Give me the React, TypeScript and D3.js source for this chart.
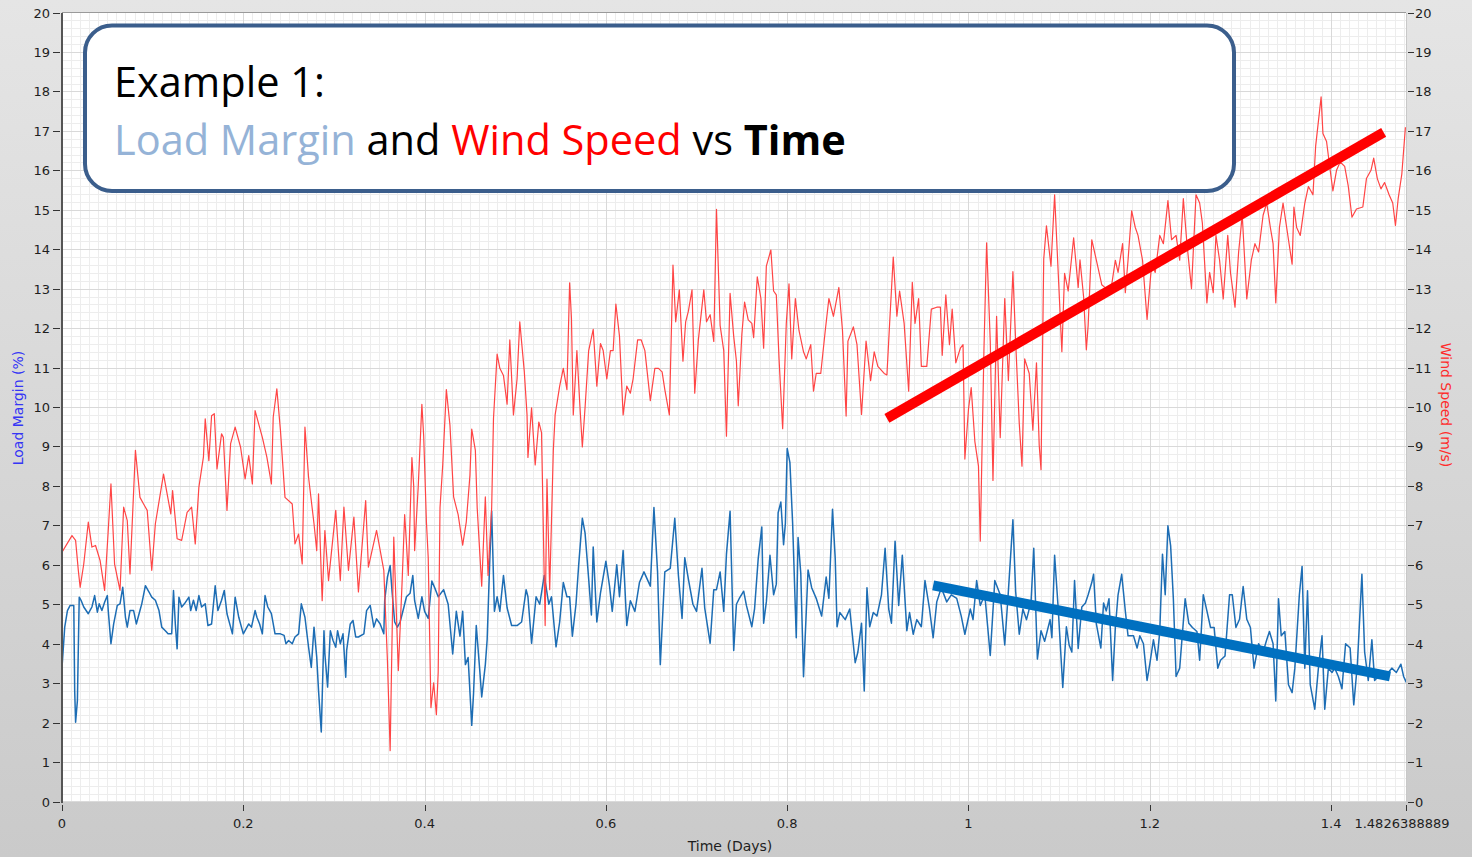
import React from "react";
import * as d3 from "d3";

// ---------- data (time in days, values in % and m/s) ----------
const X_MAX = 1.4826388889;
const xTicks = [0, 0.2, 0.4, 0.6, 0.8, 1, 1.2, 1.4, 1.4826388889];
const xTickLabels = ["0", "0.2", "0.4", "0.6", "0.8", "1", "1.2", "1.4", "1.4826388889"];
const yTicks = d3.range(0, 21);

const titleLine1 = "Example 1:";
const titleParts = [
  { text: "Load Margin", color: "#95b3d7", bold: false },
  { text: " and ", color: "#000000", bold: false },
  { text: "Wind Speed", color: "#ff0000", bold: false },
  { text: " vs ", color: "#000000", bold: false },
  { text: "Time", color: "#000000", bold: true },
];

const windSpeed: [number, number][] = [
  [0.000,6.32],[0.011,6.74],[0.015,6.62],[0.018,5.86],[0.020,5.43],[0.024,6.02],[0.029,7.08],[0.033,6.45],[0.037,6.49],[0.042,6.11],[0.047,5.35],[0.051,6.87],[0.054,8.05],[0.058,6.02],[0.064,5.35],[0.068,7.46],[0.072,7.12],[0.075,5.77],[0.081,8.90],[0.086,7.71],[0.090,7.54],[0.094,7.38],[0.099,5.86],[0.103,7.04],[0.112,8.30],[0.120,7.29],[0.122,7.88],[0.127,6.66],[0.132,6.62],[0.138,7.33],[0.143,7.46],[0.147,6.53],[0.151,7.97],[0.156,8.73],[0.158,9.70],[0.162,8.64],[0.165,9.78],[0.168,9.83],[0.171,8.43],[0.176,9.32],[0.178,9.23],[0.182,7.38],[0.186,9.07],[0.191,9.49],[0.197,8.98],[0.202,8.18],[0.206,8.77],[0.210,8.05],[0.213,9.91],[0.221,9.23],[0.226,8.73],[0.231,8.05],[0.233,9.74],[0.237,10.46],[0.241,9.40],[0.246,7.71],[0.254,7.54],[0.257,6.53],[0.261,6.78],[0.265,6.02],[0.268,9.49],[0.272,8.22],[0.278,7.04],[0.281,6.36],[0.283,7.80],[0.287,5.09],[0.290,6.87],[0.294,5.60],[0.302,7.38],[0.307,5.60],[0.311,7.46],[0.316,5.86],[0.322,7.21],[0.327,5.31],[0.335,7.63],[0.338,5.94],[0.347,6.87],[0.355,5.86],[0.359,3.57],[0.362,1.29],[0.366,6.70],[0.371,3.32],
  [0.375,5.46],[0.378,7.27],[0.380,6.54],[0.382,5.73],[0.386,8.72],[0.388,7.99],[0.389,6.36],[0.393,7.99],[0.397,10.07],[0.399,9.26],[0.402,7.09],[0.404,6.18],[0.407,2.38],[0.410,3.01],[0.413,2.20],[0.415,3.28],[0.417,7.45],[0.420,8.53],[0.424,10.44],[0.428,9.53],[0.432,7.72],[0.437,7.27],[0.442,6.50],[0.446,7.09],[0.450,8.26],[0.452,9.44],[0.456,8.90],[0.458,7.45],[0.463,5.46],[0.467,7.72],[0.470,5.73],[0.474,7.45],[0.476,9.71],[0.480,11.34],[0.483,10.98],[0.487,10.80],[0.491,10.07],[0.494,11.70],[0.498,9.80],[0.502,10.71],[0.505,12.16],[0.510,10.89],[0.513,9.80],[0.514,8.72],[0.518,9.98],[0.522,8.53],[0.526,9.62],[0.529,9.35],[0.532,5.64],[0.533,4.46],[0.535,8.17],[0.538,5.37],[0.542,8.90],[0.544,9.80],[0.549,10.53],[0.553,10.98],[0.557,10.44],[0.560,13.15],[0.562,12.25],[0.564,9.80],[0.568,11.43],[0.571,10.16],[0.574,8.99],[0.577,9.98],[0.581,11.43],[0.586,11.97],[0.590,10.53],[0.594,11.61],[0.597,11.43],[0.601,10.71],[0.605,11.43],[0.608,11.43],[0.611,12.61],[0.615,11.79],[0.619,9.80],[0.623,10.53],[0.627,10.35],[0.630,10.71],[0.635,11.70],[0.639,11.70],[0.643,11.43],[0.649,10.16],[0.654,10.98],[0.658,10.98],[0.662,10.89],[0.665,10.44],[0.670,9.80],[0.674,13.60],[0.677,12.16],[0.681,12.97],[0.685,11.16],[0.688,12.16],[0.691,12.43],[0.695,12.97],[0.698,10.35],[0.702,11.70],[0.708,12.97],[0.711,12.16],[0.715,12.34],[0.719,11.66],[0.722,15.01],[0.726,12.07],[0.730,11.43],[0.733,9.26],[0.737,12.88],[0.741,11.79],[0.744,11.16],[0.746,10.03],
  [0.750,11.85],[0.753,12.66],[0.757,12.21],[0.761,12.12],[0.763,11.76],[0.767,13.30],[0.771,12.75],[0.774,11.49],[0.777,13.57],[0.782,13.98],[0.785,12.94],[0.788,12.84],[0.791,11.22],[0.795,9.45],[0.799,12.12],[0.802,13.12],[0.805,11.22],[0.809,12.75],[0.813,11.94],[0.818,11.40],[0.821,11.22],[0.826,11.58],[0.829,10.40],[0.832,10.85],[0.837,10.85],[0.842,11.94],[0.846,12.75],[0.851,12.30],[0.857,13.03],[0.861,11.94],[0.865,9.77],[0.867,11.67],[0.873,12.03],[0.877,11.58],[0.882,9.81],[0.887,11.67],[0.892,10.67],[0.896,11.40],[0.900,11.03],[0.907,10.85],[0.910,10.81],[0.913,12.12],[0.917,13.80],[0.921,12.30],[0.924,12.94],[0.929,12.12],[0.934,10.40],[0.938,13.16],[0.941,12.12],[0.945,12.75],[0.948,11.03],[0.954,11.03],[0.959,12.48],[0.965,12.53],[0.969,12.53],[0.971,11.31],[0.975,12.84],[0.979,11.58],[0.982,12.48],[0.986,11.12],[0.991,11.49],[0.994,11.58],[0.996,8.68],[1.000,9.95],[1.003,10.49],[1.007,9.13],[1.011,8.50],[1.013,6.60],[1.017,11.40],[1.020,14.16],[1.024,11.67],[1.027,8.14],[1.031,12.30],[1.035,9.22],[1.040,12.75],[1.044,10.67],[1.049,13.43],[1.052,11.67],[1.056,9.59],[1.059,8.50],[1.062,11.22],[1.067,10.85],[1.071,9.41],[1.075,11.12],[1.078,9.04],[1.080,8.41],[1.083,13.75],[1.086,14.59],[1.091,13.57],[1.095,15.38],[1.099,13.39],[1.103,11.40],[1.106,13.39],[1.110,12.94],[1.116,14.29],[1.121,13.03],
  [1.123,13.73],[1.127,12.79],[1.130,11.45],[1.132,12.07],[1.136,14.24],[1.140,13.83],[1.143,13.52],[1.147,13.10],[1.152,13.00],[1.158,13.10],[1.162,13.72],[1.165,13.41],[1.170,14.14],[1.173,12.90],[1.176,13.72],[1.180,14.97],[1.184,14.55],[1.187,14.35],[1.192,13.72],[1.197,12.22],[1.202,13.62],[1.206,13.41],[1.211,14.35],[1.215,14.14],[1.220,15.23],[1.224,14.24],[1.229,14.35],[1.233,13.72],[1.237,15.28],[1.241,14.14],[1.246,13.00],[1.251,15.38],[1.255,15.17],[1.258,14.66],[1.263,12.64],[1.266,13.41],[1.270,12.90],[1.273,14.35],[1.277,13.72],[1.281,12.74],[1.286,14.35],[1.289,13.41],[1.294,12.53],[1.298,13.93],[1.302,14.86],[1.307,12.74],[1.312,13.72],[1.316,14.14],[1.320,13.93],[1.325,14.86],[1.329,15.17],[1.333,14.55],[1.336,14.14],[1.339,12.64],[1.343,14.55],[1.347,15.17],[1.353,14.24],[1.357,13.62],[1.359,15.07],[1.362,14.55],[1.366,14.35],[1.371,15.17],[1.375,15.59],[1.380,15.38],[1.383,16.62],[1.386,17.24],[1.389,17.86],[1.391,16.93],[1.395,16.73],[1.399,16.00],[1.402,15.48],[1.406,16.00],[1.410,16.21],[1.415,16.10],[1.419,15.59],[1.423,14.81],[1.428,15.02],[1.435,15.07],[1.439,15.79],[1.444,16.00],[1.447,16.31],[1.451,15.79],[1.455,15.53],[1.459,15.69],[1.464,15.38],[1.468,15.17],[1.471,14.60],[1.474,15.28],[1.478,15.90],[1.482,17.09],
];

const loadMargin: [number, number][] = [
  [0.000,3.40],[0.003,4.42],[0.006,4.84],[0.009,4.97],[0.013,4.97],[0.014,2.81],[0.015,2.01],[0.017,2.56],[0.019,5.18],[0.021,5.10],[0.024,4.93],[0.029,4.76],[0.033,4.93],[0.036,5.22],[0.039,4.80],[0.041,5.01],[0.044,4.84],[0.047,5.05],[0.050,5.22],[0.051,4.84],[0.054,4.00],[0.057,4.50],[0.061,4.97],[0.064,5.01],[0.067,5.43],[0.070,4.67],[0.072,4.42],[0.075,4.84],[0.079,4.84],[0.082,4.50],[0.086,4.84],[0.088,5.01],[0.092,5.47],[0.096,5.31],[0.099,5.18],[0.103,5.10],[0.107,4.84],[0.110,4.42],[0.114,4.33],[0.117,4.25],[0.121,4.25],[0.123,5.35],[0.125,4.50],[0.127,3.87],[0.129,5.18],[0.132,4.93],[0.135,5.01],[0.140,5.18],[0.142,4.84],[0.145,5.10],[0.148,4.84],[0.151,5.22],[0.154,4.93],[0.158,5.01],[0.161,4.46],[0.165,4.50],[0.169,5.47],[0.172,4.84],[0.176,5.10],[0.179,5.35],[0.182,4.76],[0.186,4.42],[0.188,4.25],[0.191,5.18],[0.195,4.67],[0.200,4.25],[0.206,4.50],[0.209,4.42],[0.213,4.84],[0.215,4.67],[0.218,4.50],[0.221,4.25],[0.224,5.22],[0.227,4.93],[0.231,4.76],[0.235,4.25],[0.241,4.25],[0.245,4.21],[0.247,4.00],[0.250,4.08],[0.254,4.00],[0.257,4.17],[0.261,4.25],[0.264,5.01],[0.268,4.67],[0.272,3.91],[0.275,3.40],[0.278,4.42],[0.281,3.66],[0.283,2.81],[0.286,1.76],[0.289,4.33],[0.290,3.74],[0.293,2.90],[0.296,4.33],[0.299,4.08],[0.302,3.91],[0.304,4.33],[0.307,4.00],[0.310,4.25],[0.313,3.15],[0.314,3.83],[0.318,4.50],[0.321,4.59],[0.324,4.17],[0.327,4.17],[0.333,4.25],[0.336,4.84],[0.340,4.97],[0.344,4.42],[0.347,4.63],[0.351,4.50],[0.355,4.25],[0.356,5.10],[0.359,5.69],[0.362,5.98],[0.364,5.35],[0.367,4.55],[0.370,4.42],
  [0.373,4.55],[0.377,4.91],[0.380,5.19],[0.384,5.28],[0.387,5.73],[0.389,5.09],[0.393,4.64],[0.397,5.19],[0.400,4.82],[0.404,4.64],[0.408,5.59],[0.412,5.37],[0.415,5.19],[0.421,5.37],[0.426,5.00],[0.431,3.74],[0.435,4.82],[0.439,4.19],[0.442,4.82],[0.445,3.47],[0.448,3.65],[0.452,1.93],[0.454,2.74],[0.457,4.46],[0.461,3.28],[0.463,2.65],[0.467,3.47],[0.469,4.10],[0.472,6.18],[0.474,7.36],[0.477,4.82],[0.480,5.19],[0.483,4.82],[0.487,5.73],[0.491,4.91],[0.496,4.46],[0.502,4.46],[0.507,4.55],[0.512,5.37],[0.514,5.19],[0.518,4.01],[0.523,5.19],[0.527,5.00],[0.532,5.73],[0.537,5.00],[0.540,5.19],[0.545,3.92],[0.549,4.55],[0.553,5.55],[0.557,5.19],[0.560,5.19],[0.563,4.19],[0.567,5.00],[0.570,6.00],[0.574,7.18],[0.577,6.81],[0.581,5.64],[0.584,4.73],[0.586,6.45],[0.590,4.55],[0.594,5.28],[0.600,6.09],[0.604,5.46],[0.607,4.82],[0.612,6.00],[0.615,5.19],[0.619,6.36],[0.623,4.46],[0.627,5.09],[0.632,4.82],[0.637,5.55],[0.642,5.82],[0.649,5.46],[0.653,7.45],[0.657,5.82],[0.660,3.47],[0.665,5.82],[0.671,5.91],[0.676,7.18],[0.680,5.73],[0.684,4.64],[0.687,6.18],[0.691,5.64],[0.696,5.00],[0.700,4.82],[0.706,5.91],[0.709,4.91],[0.715,4.01],[0.719,5.37],[0.722,5.37],[0.726,5.82],[0.730,4.82],[0.733,6.27],[0.737,7.36],[0.741,3.83],[0.744,5.00],[0.747,5.14],
  [0.752,5.33],[0.755,4.97],[0.761,4.43],[0.764,4.88],[0.768,6.15],[0.772,6.96],[0.774,4.52],[0.777,5.06],[0.781,6.24],[0.785,5.24],[0.788,5.51],[0.790,7.32],[0.793,7.59],[0.796,6.51],[0.798,7.05],[0.800,8.95],[0.803,8.59],[0.806,7.05],[0.810,4.15],[0.812,6.69],[0.815,5.78],[0.818,3.16],[0.823,5.87],[0.827,5.42],[0.832,5.15],[0.838,4.70],[0.843,5.69],[0.846,5.15],[0.850,7.41],[0.853,6.15],[0.855,4.43],[0.858,4.79],[0.864,4.61],[0.869,4.88],[0.875,3.52],[0.878,3.79],[0.882,4.52],[0.885,2.80],[0.888,5.42],[0.891,4.43],[0.895,4.79],[0.899,4.70],[0.904,5.24],[0.908,6.42],[0.912,4.88],[0.915,4.52],[0.919,6.60],[0.923,4.97],[0.927,6.24],[0.932,4.33],[0.935,4.79],[0.939,4.24],[0.943,4.61],[0.948,4.43],[0.952,5.60],[0.957,4.88],[0.961,4.15],[0.965,5.06],[0.970,5.42],[0.976,5.06],[0.981,5.24],[0.987,5.15],[0.992,4.70],[0.996,4.24],[1.002,4.88],[1.005,4.61],[1.009,5.60],[1.013,4.97],[1.018,5.24],[1.024,3.70],[1.029,5.60],[1.035,5.24],[1.040,3.97],[1.044,5.33],[1.049,7.14],[1.052,5.33],[1.056,4.24],[1.060,4.88],[1.064,4.61],[1.069,5.06],[1.072,6.42],[1.076,3.61],[1.080,4.33],[1.084,4.06],[1.090,4.61],[1.092,4.15],[1.095,6.24],[1.099,4.88],[1.104,2.89],[1.108,4.43],[1.111,3.97],[1.114,3.79],[1.117,5.60],[1.121,3.88],
  [1.125,4.93],[1.129,5.03],[1.132,5.24],[1.136,5.55],[1.138,5.76],[1.141,4.51],[1.146,3.89],[1.149,5.03],[1.152,4.83],[1.155,5.14],[1.159,3.07],[1.162,4.41],[1.165,5.24],[1.169,5.76],[1.173,4.83],[1.176,4.20],[1.182,4.20],[1.186,3.89],[1.189,4.20],[1.193,4.00],[1.197,3.07],[1.200,3.48],[1.204,4.10],[1.208,3.58],[1.211,4.31],[1.214,6.27],[1.217,5.24],[1.220,6.99],[1.223,6.48],[1.226,5.14],[1.229,3.17],[1.233,3.38],[1.239,5.14],[1.243,4.52],[1.247,4.41],[1.252,4.31],[1.255,3.58],[1.259,5.24],[1.263,4.83],[1.267,4.41],[1.271,4.41],[1.275,3.38],[1.278,3.58],[1.283,3.69],[1.288,5.24],[1.291,5.24],[1.295,4.41],[1.299,4.62],[1.303,5.45],[1.307,4.62],[1.311,4.41],[1.315,3.38],[1.320,4.00],[1.325,3.79],[1.329,4.10],[1.332,4.31],[1.336,4.00],[1.339,2.55],[1.342,5.14],[1.345,4.20],[1.349,4.31],[1.353,2.96],[1.357,2.76],[1.360,3.38],[1.365,5.24],[1.368,5.96],[1.371,3.38],[1.374,5.34],[1.377,2.96],[1.382,2.34],[1.386,3.38],[1.390,4.20],[1.393,2.34],[1.397,3.38],[1.401,3.27],[1.404,3.38],[1.408,3.17],[1.412,2.86],[1.416,4.00],[1.421,3.89],[1.425,2.45],[1.429,3.48],[1.434,5.76],[1.437,3.79],[1.441,3.07],[1.445,4.10],[1.448,3.07],[1.452,3.17],[1.458,3.27],[1.463,3.27],[1.467,3.38],[1.472,3.27],[1.477,3.48],[1.480,3.17],[1.483,3.02],
];

// hand-drawn trend annotations (days, value)
const windTrend: [number, number][] = [[0.910, 9.71], [1.458, 16.96]];
const loadTrend: [number, number][] = [[0.961, 5.48], [1.465, 3.17]];

// ---------- layout ----------
const W = 1472;
const H = 857;
const PL = 62;
const PR = 1406;
const PT = 12.5;
const PB = 801.5;
const TICK_FONT = "'DejaVu Sans', Verdana, sans-serif";
const TITLE_FONT = "'Open Sans', 'Noto Sans', sans-serif";

export default function App() {
  const x = d3.scaleLinear().domain([0, X_MAX]).range([PL, PR]);
  const yL = d3.scaleLinear().domain([0, 20]).range([PB, PT]);
  const yR = d3.scaleLinear().domain([0, 20]).range([PB, PT]);

  const lineL = d3.line<[number, number]>().x((d) => x(d[0])).y((d) => yL(d[1]));
  const lineR = d3.line<[number, number]>().x((d) => x(d[0])).y((d) => yR(d[1]));

  const minorX = d3.range(1, 149).map((i) => i / 100).filter((v) => Math.abs(v * 5 - Math.round(v * 5)) > 1e-6);
  const majorX = [0.2, 0.4, 0.6, 0.8, 1.0, 1.2, 1.4];
  const minorY = d3.range(1, 100).map((i) => i / 5).filter((v) => Math.abs(v - Math.round(v)) > 1e-6);
  const majorY = d3.range(1, 20);

  const snap = (v: number) => Math.round(v) + 0.5;

  return (
    <div style={{ position: "absolute", left: 0, top: 0, width: W, height: H }}>
      <svg width={W} height={H} style={{ display: "block" }}>
        <defs>
          <linearGradient id="bg" x1="0" y1="0" x2="0" y2="1">
            <stop offset="0" stopColor="#e5e5e5" />
            <stop offset="1" stopColor="#cacaca" />
          </linearGradient>
          <clipPath id="plotClip">
            <rect x={PL} y={PT} width={PR - PL} height={PB - PT} />
          </clipPath>
        </defs>
        <rect x={0} y={0} width={W} height={H} fill="url(#bg)" />
        <rect x={PL} y={PT} width={PR - PL} height={PB - PT} fill="#ffffff" />

        {/* grid */}
        <g shapeRendering="crispEdges">
          {minorX.map((v) => (
            <line key={"mx" + v} x1={snap(x(v))} x2={snap(x(v))} y1={PT} y2={PB} stroke="#ededed" />
          ))}
          {minorY.map((v) => (
            <line key={"my" + v} x1={PL} x2={PR} y1={snap(yL(v))} y2={snap(yL(v))} stroke="#ededed" />
          ))}
          {majorX.map((v) => (
            <line key={"Mx" + v} x1={snap(x(v))} x2={snap(x(v))} y1={PT} y2={PB} stroke="#d9d9d9" />
          ))}
          {majorY.map((v) => (
            <line key={"My" + v} x1={PL} x2={PR} y1={snap(yL(v))} y2={snap(yL(v))} stroke="#d9d9d9" />
          ))}
        </g>

        {/* series */}
        <g clipPath="url(#plotClip)">
          <path d={lineL(loadMargin) || ""} fill="none" stroke="#1d6db4" strokeWidth={1.5} strokeLinejoin="round" />
          <path d={lineR(windSpeed) || ""} fill="none" stroke="#ff4545" strokeWidth={1.2} strokeLinejoin="round" />
        </g>

        {/* plot frame */}
        <g shapeRendering="crispEdges">
          <line x1={PL} x2={PR} y1={PT} y2={PT} stroke="#9a9a9a" />
          <line x1={PR} x2={PR} y1={PT} y2={PB} stroke="#c8c8c8" />
          <line x1={PL} x2={PR} y1={PB} y2={PB} stroke="#dadada" />
          <line x1={PL - 0.5} x2={PL - 0.5} y1={PT} y2={PB + 1} stroke="#555555" strokeWidth={2} />
        </g>

        {/* axes */}
        <g fontFamily={TICK_FONT} fontSize={13} fill="#1e1e1e">
          {yTicks.map((v) => (
            <g key={"l" + v}>
              <line x1={53} x2={60} y1={snap(yL(v))} y2={snap(yL(v))} stroke="#333" shapeRendering="crispEdges" />
              <text x={50} y={yL(v) + 5} textAnchor="end">{v}</text>
            </g>
          ))}
          {yTicks.map((v) => (
            <g key={"r" + v}>
              <line x1={1408} x2={1414} y1={snap(yR(v))} y2={snap(yR(v))} stroke="#333" shapeRendering="crispEdges" />
              <text x={1415} y={yR(v) + 5} textAnchor="start">{v}</text>
            </g>
          ))}
          {xTicks.map((v, i) => (
            <g key={"x" + i}>
              <line x1={snap(x(v))} x2={snap(x(v))} y1={805} y2={811} stroke="#333" shapeRendering="crispEdges" />
              <text x={i === xTicks.length - 1 ? x(v) - 4 : x(v)} y={828} textAnchor="middle">{xTickLabels[i]}</text>
            </g>
          ))}
        </g>

        {/* axis titles */}
        <text x={730} y={851} textAnchor="middle" fontFamily={TICK_FONT} fontSize={14} fill="#1e1e1e">Time (Days)</text>
        <text transform="translate(23,408) rotate(-90)" textAnchor="middle" fontFamily={TICK_FONT} fontSize={14} fill="#3535f5">Load Margin (%)</text>
        <text transform="translate(1441,405) rotate(90)" textAnchor="middle" fontFamily={TICK_FONT} fontSize={14} fill="#ff2a2a">Wind Speed (m/s)</text>

        {/* trend annotations */}
        <line x1={x(windTrend[0][0])} y1={yR(windTrend[0][1])} x2={x(windTrend[1][0])} y2={yR(windTrend[1][1])} stroke="#ff0000" strokeWidth={10} />
        <line x1={x(loadTrend[0][0])} y1={yL(loadTrend[0][1])} x2={x(loadTrend[1][0])} y2={yL(loadTrend[1][1])} stroke="#0070c0" strokeWidth={10} />

        {/* title box */}
        <rect x={85} y={25.5} width={1149} height={165.5} rx={27} ry={27} fill="#ffffff" stroke="#3b5e8c" strokeWidth={4} />
        <text x={114} y={97} fontFamily={TITLE_FONT} fontSize={41.5} fill="#000">{titleLine1}</text>
        <text x={114} y={155} fontFamily={TITLE_FONT} fontSize={41.5}>
          {titleParts.map((p, i) => (
            <tspan key={i} fill={p.color} fontWeight={p.bold ? 700 : 400} style={{ whiteSpace: "pre" }}>{p.text}</tspan>
          ))}
        </text>
      </svg>
    </div>
  );
}
